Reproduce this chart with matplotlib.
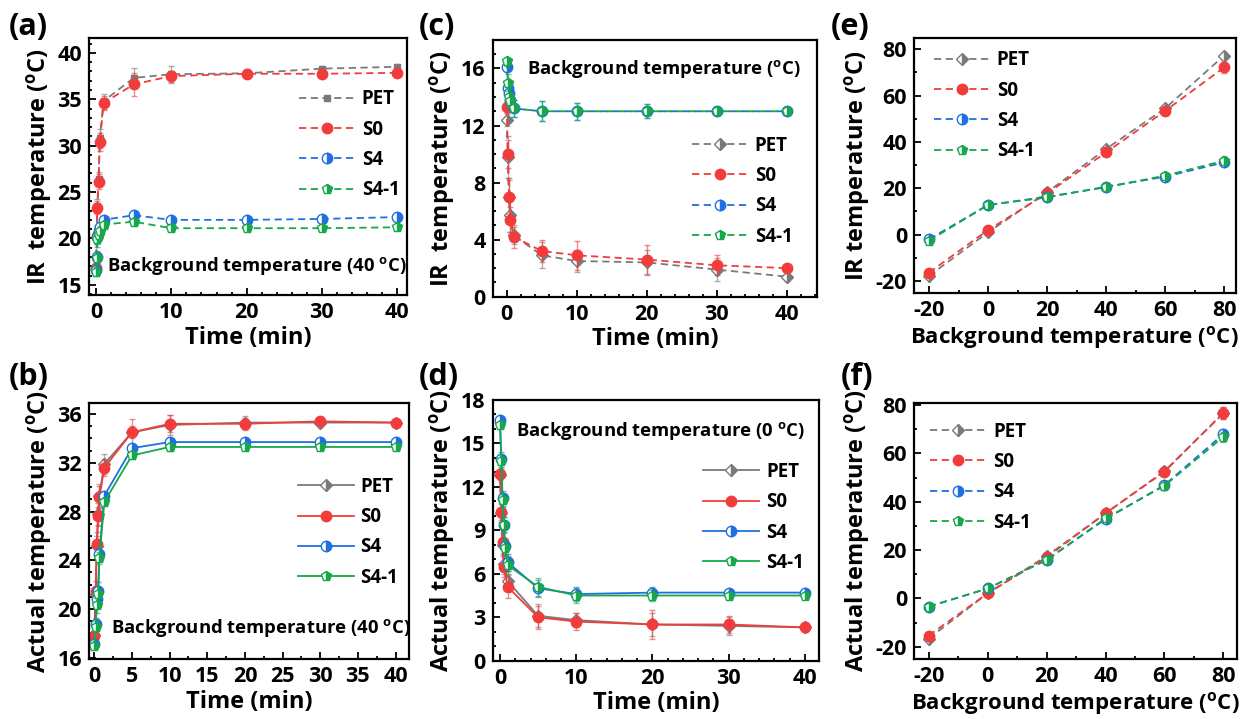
import matplotlib
matplotlib.use("Agg")
import matplotlib.pyplot as plt
from matplotlib.ticker import MultipleLocator

plt.rcParams['font.family'] = ['Open Sans', 'DejaVu Sans']
plt.rcParams['font.weight'] = 'bold'
plt.rcParams['axes.labelweight'] = 'bold'
plt.rcParams['axes.unicode_minus'] = False
plt.rcParams['mathtext.fontset'] = 'custom'
plt.rcParams['mathtext.rm'] = 'Open Sans:bold'
plt.rcParams['mathtext.it'] = 'Open Sans:bold'
plt.rcParams['mathtext.bf'] = 'Open Sans:bold'

names = ["PET", "S0", "S4", "S4-1"]
colors = ["#7a7a7a", "#f23c3c", "#1f6fe0", "#16a84b"]
DEG = r"($\mathrm{^o}$C)"

# (a) IR temperature, 40 C background
t_a = [0, 0.08, 0.17, 0.33, 0.5, 1, 5, 10, 20, 30, 40]
a_pet = [16.6, 20.5, 23.5, 26.4, 30.8, 34.8, 37.3, 37.7, 37.8, 38.3, 38.5]
a_s0 = [16.8, 20.3, 23.3, 26.1, 30.4, 34.6, 36.6, 37.5, 37.75, 37.75, 37.85]
a_s4 = [16.6, 18.0, 20.2, 20.8, 21.2, 22.0, 22.5, 22.0, 22.0, 22.1, 22.3]
a_s41 = [16.4, 17.9, 19.9, 20.4, 20.8, 21.5, 21.8, 21.1, 21.1, 21.1, 21.2]
a_err = [[0.5, 0.8, 0.8, 0.8, 1.0, 0.8, 1.1, 0.9, 0.5, 0.3, 0.3],
         [0.5, 0.8, 0.7, 0.8, 1.0, 0.8, 1.2, 0.6, 0.3, 0.3, 0.3],
         [0.5, 0.6, 0.8, 0.6, 0.5, 0.3, 0.3, 0.3, 0.3, 0.3, 0.3],
         [0.5, 0.6, 0.8, 0.6, 0.5, 0.3, 0.3, 0.3, 0.3, 0.3, 0.3]]

# (b) actual temperature, 40 C background
t_b = [0, 0.17, 0.33, 0.5, 0.67, 1.33, 5, 10, 20, 30, 40]
b_pet = [17.9, 21.2, 25.2, 27.8, 29.3, 31.9, 34.5, 35.1, 35.3, 35.3, 35.3]
b_s0 = [17.8, 21.5, 25.3, 27.6, 29.2, 31.6, 34.5, 35.2, 35.2, 35.4, 35.3]
b_s4 = [17.1, 18.8, 20.8, 21.5, 24.5, 29.3, 33.2, 33.7, 33.7, 33.7, 33.7]
b_s41 = [17.0, 18.5, 20.3, 21.2, 24.2, 28.8, 32.6, 33.3, 33.3, 33.3, 33.3]
b_err = [[0.3, 0.6, 0.8, 0.9, 1.0, 0.8, 0.5, 0.8, 0.5, 0.4, 0.2],
         [0.3, 0.8, 1.0, 0.8, 0.9, 0.7, 1.1, 0.7, 0.5, 0.3, 0.2],
         [0.3, 0.5, 0.6, 0.7, 0.5, 0.3, 0.3, 0.3, 0.2, 0.2, 0.2],
         [0.3, 0.5, 0.6, 0.7, 0.5, 0.3, 0.3, 0.3, 0.2, 0.2, 0.2]]

# (c) IR temperature, 0 C background
t_c = [0, 0.17, 0.33, 0.5, 1, 5, 10, 20, 30, 40]
c_pet = [12.4, 9.8, 7.0, 5.7, 4.3, 2.9, 2.5, 2.4, 1.9, 1.4]
c_s0 = [13.3, 10.0, 7.0, 5.4, 4.2, 3.2, 2.9, 2.6, 2.2, 2.0]
c_s4 = [16.1, 14.6, 14.3, 13.8, 13.2, 13.0, 13.0, 13.0, 13.0, 13.0]
c_s41 = [16.5, 15.0, 14.0, 13.7, 13.2, 13.0, 13.0, 13.0, 13.0, 13.0]
c_err = [[0.4, 1.5, 1.3, 1.2, 0.6, 0.9, 0.8, 0.9, 0.8, 0.3],
         [0.4, 1.0, 1.2, 0.9, 0.8, 0.8, 1.0, 1.0, 0.7, 0.2],
         [0.3, 0.6, 0.6, 0.5, 0.6, 0.7, 0.6, 0.5, 0.2, 0.2],
         [0.3, 0.6, 0.6, 0.5, 0.6, 0.7, 0.6, 0.5, 0.2, 0.2]]

# (d) actual temperature, 0 C background
t_d1 = [0, 0.17, 0.33, 0.5, 1, 5, 10, 20, 30, 40]
t_d2 = [0, 0.17, 0.33, 0.5, 0.67, 1, 5, 10, 20, 30, 40]
d_pet = [12.8, 10.2, 8.0, 6.7, 5.5, 3.1, 2.8, 2.5, 2.4, 2.3]
d_s0 = [12.9, 10.3, 8.2, 6.5, 5.1, 3.0, 2.7, 2.5, 2.5, 2.3]
d_s4 = [16.6, 13.9, 11.2, 9.4, 7.9, 6.8, 5.0, 4.6, 4.7, 4.7, 4.7]
d_s41 = [16.3, 13.8, 11.1, 9.4, 7.8, 6.6, 5.1, 4.5, 4.5, 4.5, 4.5]
d_err = [[0.3, 0.6, 0.8, 0.7, 0.7, 0.8, 0.5, 0.8, 0.6, 0.3],
         [0.3, 0.6, 0.8, 0.7, 0.8, 0.8, 0.6, 1.0, 0.6, 0.3],
         [0.2, 0.5, 0.5, 0.5, 0.5, 0.6, 0.6, 0.5, 0.4, 0.2, 0.2],
         [0.2, 0.5, 0.5, 0.5, 0.5, 0.6, 0.6, 0.5, 0.4, 0.2, 0.2]]

# (e) IR temperature vs background temperature
bg = [-20, 0, 20, 40, 60, 80]
e_pet = [-17.8, 1.0, 18.3, 37.0, 54.5, 77.3]
e_s0 = [-16.4, 2.0, 17.8, 35.5, 53.4, 72.2]
e_s4 = [-2.0, 12.8, 16.1, 20.7, 25.0, 31.2]
e_s41 = [-2.6, 12.8, 16.4, 20.4, 25.5, 31.9]
e_err = [[1.0, 1.0, 1.0, 1.2, 1.2, 1.5],
         [1.0, 1.0, 1.0, 1.2, 1.5, 2.5],
         [1.0, 1.0, 1.0, 1.0, 1.5, 1.5],
         [1.0, 1.0, 1.0, 1.0, 1.5, 2.0]]

# (f) actual temperature vs background temperature
f_pet = [-16.6, 2.1, 17.5, 35.2, 52.7, 76.6]
f_s0 = [-15.4, 2.1, 17.0, 35.2, 52.4, 76.8]
f_s4 = [-3.4, 4.1, 15.9, 32.8, 46.9, 68.0]
f_s41 = [-3.4, 4.1, 15.9, 33.1, 46.6, 66.9]
f_err = [[1.0, 1.0, 1.5, 1.5, 1.5, 2.5],
         [1.0, 1.0, 1.5, 1.5, 1.5, 2.5],
         [1.0, 1.0, 1.0, 1.2, 1.5, 2.0],
         [1.0, 1.0, 1.0, 1.2, 1.5, 2.0]]


def panel(rect, xs, ys, errs, ls, pet_marker, xlim, ylim, xmaj, xmin, ymaj, ymin,
          xlabel, ylabel, leg_xy, tag, tag_xy, note=None, note_xy=None, xlsize=17):
    ax = fig.add_axes(rect)
    markers = [pet_marker, "o", "o", "p"]
    fills = ["full" if pet_marker == "s" else "right", "full", "right", "right"]
    for x, y, e, c, m, fs, n in zip(xs, ys, errs, colors, markers, fills, names):
        ax.errorbar(x, y, yerr=e, fmt="none", ecolor=c, alpha=0.6,
                    elinewidth=1.0, capsize=2.5, capthick=1.0)
        ax.plot(x, y, ls=ls, dashes=(4, 2.5) if ls == "--" else (None, None),
                color=c, lw=1.3, marker=m,
                ms={"D": 6, "s": 5}.get(m, 7.5),
                fillstyle=fs, markerfacecoloralt="white", mec=c, mew=1.0,
                label=n)
    ax.set_xlim(*xlim)
    ax.set_ylim(*ylim)
    ax.xaxis.set_major_locator(MultipleLocator(xmaj))
    ax.xaxis.set_minor_locator(MultipleLocator(xmin))
    ax.yaxis.set_major_locator(MultipleLocator(ymaj))
    ax.yaxis.set_minor_locator(MultipleLocator(ymin))
    ax.tick_params(which="both", direction="in", width=1.3, labelsize=15.5, pad=5)
    ax.tick_params(which="major", length=5)
    ax.tick_params(which="minor", length=2.5)
    for s in ax.spines.values():
        s.set_linewidth(1.6)
    ax.set_xlabel(xlabel, fontsize=xlsize, labelpad=2)
    ax.set_ylabel(ylabel, fontsize=17, labelpad=2)
    ax.legend(loc="upper left", bbox_to_anchor=leg_xy, frameon=False,
              fontsize=13.5, handlelength=3.0, handletextpad=0.35,
              labelspacing=0.55, borderpad=0, borderaxespad=0)
    if note:
        ax.text(note_xy[0], note_xy[1], note, transform=ax.transAxes,
                fontsize=13.3, ha="left", va="center")
    fig.text(tag_xy[0], tag_xy[1], tag, fontsize=22, ha="left", va="center")
    return ax


fig = plt.figure(figsize=(12.42, 7.19), dpi=100)

panel([0.0717, 0.5897, 0.256, 0.3574], [t_a] * 4, [a_pet, a_s0, a_s4, a_s41], a_err,
      "--", "s", (-0.93, 41.3), (13.9, 41.6), 10, 2, 5, 1,
      "Time (min)", "IR  temperature " + DEG, (0.66, 0.80), "(a)", (0.007, 0.962),
      "Background temperature (40 $\\mathrm{^o}$C)", (0.057, 0.113))

panel([0.0717, 0.0834, 0.2577, 0.356], [t_b] * 4, [b_pet, b_s0, b_s4, b_s41], b_err,
      "-", "D", (-0.7, 41.8), (15.9, 36.9), 5, 2.5, 4, 1,
      "Time (min)", "Actual temperature " + DEG, (0.652, 0.712), "(b)", (0.007, 0.475),
      "Background temperature (40 $\\mathrm{^o}$C)", (0.069, 0.122))

panel([0.3967, 0.5874, 0.2611, 0.357], [t_c] * 4, [c_pet, c_s0, c_s4, c_s41], c_err,
      "--", "D", (-2.0, 44.3), (0, 18), 10, 2, 4, 1,
      "Time (min)", "IR  temperature " + DEG, (0.614, 0.627), "(c)", (0.337, 0.962),
      "Background temperature " + DEG, (0.107, 0.887))

panel([0.3967, 0.0811, 0.2627, 0.3626], [t_d1, t_d1, t_d2, t_d2], [d_pet, d_s0, d_s4, d_s41], d_err,
      "-", "D", (-0.96, 41.85), (0, 18), 10, 2, 3, 1,
      "Time (min)", "Actual temperature " + DEG, (0.645, 0.762), "(d)", (0.337, 0.475),
      "Background temperature (0 $\\mathrm{^o}$C)", (0.071, 0.881))

panel([0.7359, 0.5925, 0.259, 0.3547], [bg] * 4, [e_pet, e_s0, e_s4, e_s41], e_err,
      "--", "D", (-25.1, 83.9), (-25.2, 84.9), 20, 10, 20, 10,
      "Background temperature " + DEG, "IR temperature " + DEG, (0.062, 0.952), "(e)", (0.669, 0.962),
      xlsize=16)

panel([0.7359, 0.0834, 0.26, 0.3565], [bg] * 4, [f_pet, f_s0, f_s4, f_s41], f_err,
      "--", "D", (-25.0, 84.6), (-25.1, 81.0), 20, 10, 20, 10,
      "Background temperature " + DEG, "Actual temperature " + DEG, (0.05, 0.926), "(f)", (0.677, 0.475),
      xlsize=16)

fig.savefig("out.png", dpi=100)
